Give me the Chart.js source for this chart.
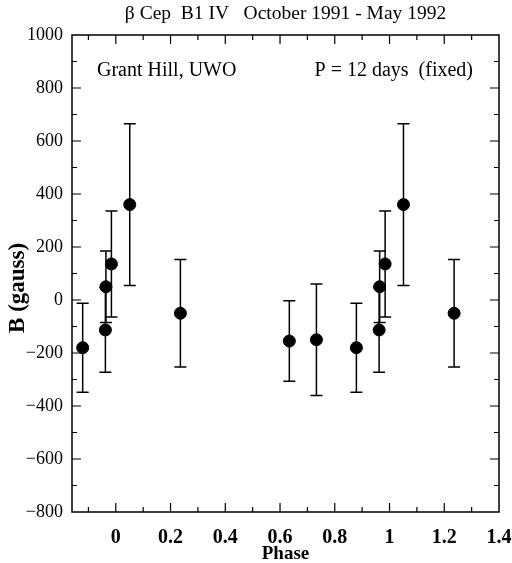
<!DOCTYPE html>
<html>
<head>
<meta charset="utf-8">
<script src="https://cdn.jsdelivr.net/npm/chart.js@4/dist/chart.umd.min.js"></script>
<style>
html,body{margin:0;padding:0;background:#fff;}
#wrap{width:512px;height:563px;}
</style>
</head>
<body>
<div id="wrap"><canvas id="c" width="512" height="563"></canvas></div>
<script>
// Data
const phases = [-0.121, -0.038, -0.036, -0.016, 0.051, 0.236, 0.634, 0.733, 0.879, 0.962, 0.964, 0.984, 1.051, 1.236];
const fieldB = [-180, -113, 50, 136, 360, -50, -155, -150, -180, -113, 50, 136, 360, -50];
const errB   = [168, 160, 135, 200, 305, 203, 152, 210, 168, 160, 135, 200, 305, 203];
const xTicks = [0, 0.2, 0.4, 0.6, 0.8, 1, 1.2, 1.4];
const yTicks = [-800, -600, -400, -200, 0, 200, 400, 600, 800, 1000];
const titleText = 'β Cep  B1 IV   October 1991 - May 1992';
const leftNote = 'Grant Hill, UWO';
const rightNote = 'P = 12 days  (fixed)';

const points = phases.map((p, i) => ({x: p, y: fieldB[i], e: errB[i]}));
const FONT = "'Liberation Serif', 'Times New Roman', serif";

const framePlugin = {
  id: 'frame',
  beforeDatasetsDraw(chart) {
    const {ctx, scales: {x, y}} = chart;
    ctx.save();
    ctx.strokeStyle = '#000';
    ctx.lineWidth = 1.5;
    points.forEach(p => {
      const px = x.getPixelForValue(p.x);
      const yt = y.getPixelForValue(p.y + p.e);
      const yb = y.getPixelForValue(p.y - p.e);
      ctx.beginPath();
      ctx.moveTo(px, yt); ctx.lineTo(px, yb);
      ctx.moveTo(px - 6, yt); ctx.lineTo(px + 6, yt);
      ctx.moveTo(px - 6, yb); ctx.lineTo(px + 6, yb);
      ctx.stroke();
    });
    ctx.restore();
  },
  afterDraw(chart) {
    const {ctx, chartArea: a, scales: {x, y}} = chart;
    ctx.save();
    ctx.strokeStyle = '#000';
    ctx.lineWidth = 1.5;
    ctx.strokeRect(a.left, a.top, a.right - a.left, a.bottom - a.top);
    ctx.lineWidth = 1.2;
    ctx.beginPath();
    for (let k = -1; k <= 13; k++) {
      const v = k / 10;
      const px = x.getPixelForValue(v);
      const len = (k % 2 === 0) ? 9 : 5;
      ctx.moveTo(px, a.bottom); ctx.lineTo(px, a.bottom - len);
      ctx.moveTo(px, a.top); ctx.lineTo(px, a.top + len);
    }
    for (let v = -700; v <= 900; v += 100) {
      const py = y.getPixelForValue(v);
      const len = (v % 200 === 0) ? 9 : 5;
      ctx.moveTo(a.left, py); ctx.lineTo(a.left + len, py);
      ctx.moveTo(a.right, py); ctx.lineTo(a.right - len, py);
    }
    ctx.stroke();
    ctx.fillStyle = '#000';
    ctx.font = '20px ' + FONT;
    ctx.textBaseline = 'middle';
    ctx.textAlign = 'left';
    ctx.fillText(leftNote, a.left + 25, a.top + 36);
    ctx.textAlign = 'right';
    ctx.fillText(rightNote, a.right - 26, a.top + 36);
    ctx.restore();
  }
};

new Chart(document.getElementById('c'), {
  type: 'scatter',
  data: {
    datasets: [{
      data: points,
      backgroundColor: '#000',
      borderColor: '#000',
      pointRadius: 6,
      pointHoverRadius: 6,
      showLine: false
    }]
  },
  options: {
    responsive: false,
    animation: false,
    events: [],
    layout: {padding: {left: 0, right: 13, top: 0, bottom: 0}},
    plugins: {
      legend: {display: false},
      tooltip: {enabled: false},
      title: {
        display: true,
        text: titleText,
        fullSize: false,
        color: '#000',
        font: {family: FONT, size: 19.5, weight: 'normal'},
        padding: {top: 2, bottom: 9.6}
      }
    },
    scales: {
      x: {
        type: 'linear',
        min: -0.16,
        max: 1.4,
        afterBuildTicks(s) { s.ticks = xTicks.map(v => ({value: v})); },
        afterFit(s) { s.height = 51; s.paddingLeft = 0; s.paddingRight = 0; },
        grid: {display: false, drawTicks: false},
        border: {display: false},
        ticks: {
          color: '#000',
          padding: 14,
          maxRotation: 0,
          autoSkip: false,
          font: {family: FONT, size: 20, weight: 'bold'},
          callback: v => String(Number(v.toFixed(1)))
        },
        title: {
          display: true,
          text: 'Phase',
          color: '#000',
          font: {family: FONT, size: 19, weight: 'bold'},
          padding: {top: 0, bottom: -2}
        }
      },
      y: {
        type: 'linear',
        min: -800,
        max: 1000,
        afterBuildTicks(s) { s.ticks = yTicks.map(v => ({value: v})); },
        afterFit(s) { s.width = 72; s.paddingTop = 0; s.paddingBottom = 0; },
        grid: {display: false, drawTicks: false},
        border: {display: false},
        ticks: {
          color: '#000',
          padding: 9,
          autoSkip: false,
          font: {family: FONT, size: 18, weight: 'normal'},
          callback: v => (v < 0 ? '\u2212' + Math.abs(v) : String(v))
        },
        title: {
          display: true,
          text: 'B (gauss)     ',
          color: '#000',
          font: {family: FONT, size: 23, weight: 'bold'},
          padding: {top: 4, bottom: 0}
        }
      }
    }
  },
  plugins: [framePlugin]
});
</script>
</body>
</html>
